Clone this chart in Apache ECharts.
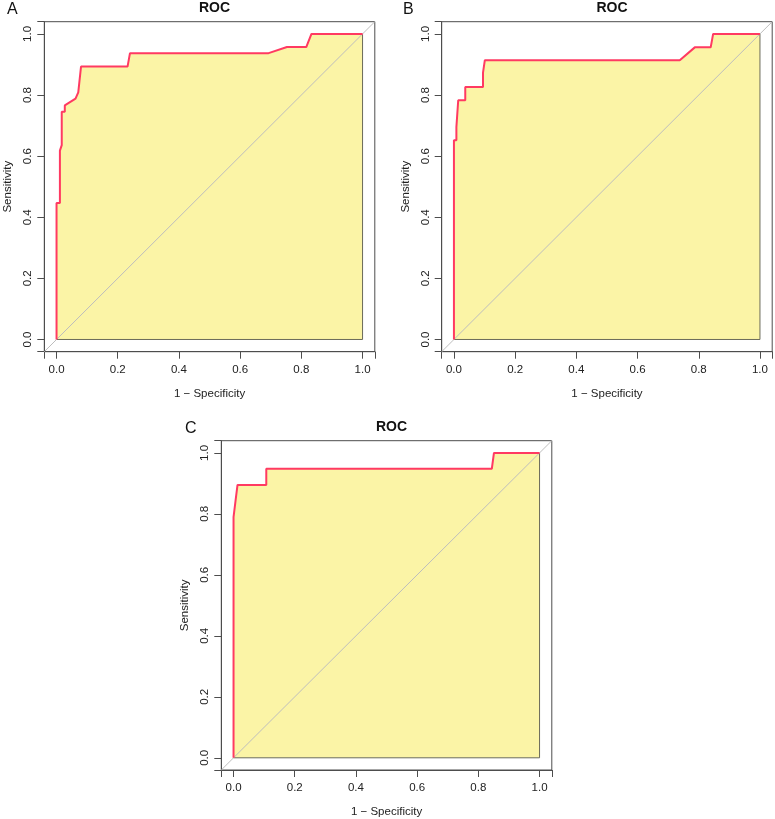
<!DOCTYPE html>
<html>
<head>
<meta charset="utf-8">
<script src="https://cdn.jsdelivr.net/npm/echarts@6/dist/echarts.min.js"></script>
<style>
html,body{margin:0;padding:0;background:#fff;}
#chart{width:775px;height:819px;}
</style>
</head>
<body>
<div id="chart"></div>
<script>
// ---- data ----
const panelLetters = ['A', 'B', 'C'];
const panelTitle = 'ROC';
const xAxisName = '1 \u2212 Specificity';
const yAxisName = 'Sensitivity';
const tickValues = [0, 0.2, 0.4, 0.6, 0.8, 1.0];

const fprA = [0, 0, 0.011, 0.011, 0.017, 0.017, 0.027, 0.027, 0.062, 0.071, 0.080, 0.232, 0.240, 0.693, 0.753, 0.816, 0.833, 1.0];
const tprA = [0, 0.447, 0.447, 0.618, 0.636, 0.745, 0.745, 0.766, 0.788, 0.809, 0.893, 0.893, 0.937, 0.937, 0.957, 0.957, 1.0, 1.0];

const fprB = [0, 0, 0.008, 0.008, 0.014, 0.014, 0.037, 0.037, 0.095, 0.095, 0.101, 0.738, 0.787, 0.839, 0.847, 1.0];
const tprB = [0, 0.652, 0.652, 0.695, 0.695, 0.783, 0.783, 0.826, 0.826, 0.873, 0.914, 0.914, 0.956, 0.956, 1.0, 1.0];

const fprC = [0, 0, 0.0065, 0.0065, 0.013, 0.013, 0.107, 0.107, 0.844, 0.851, 1.0];
const tprC = [0, 0.789, 0.789, 0.843, 0.843, 0.895, 0.895, 0.948, 0.948, 1.0, 1.0];

const axisPad = 0.04; // R's default 4% range extension

// ---- build ----
const curves = [[fprA, tprA], [fprB, tprB], [fprC, tprC]];
const grids = [
  {left: 44.3, top: 21.7, width: 330.5, height: 330},
  {left: 441.7, top: 21.7, width: 330.5, height: 330},
  {left: 221.3, top: 440.7, width: 330.5, height: 329.6}
];
const FONT = '"Liberation Sans", Arial, Helvetica, sans-serif';
const RED = '#FF3A62';
const FILL = '#FBF4A6';
const BOX = '#4d4d4d';

const option = {
  animation: false,
  title: [],
  grid: [],
  xAxis: [],
  yAxis: [],
  series: []
};

grids.forEach((g, i) => {
  option.grid.push(Object.assign({show: true, borderColor: BOX}, g));
  option.title.push({
    text: panelTitle, left: g.left + g.width / 2, top: g.top - 26, textAlign: 'center',
    textStyle: {fontFamily: FONT, fontWeight: 'bold', fontSize: 14, color: '#111'}
  });
  const lx = i === 0 ? 2 : (i === 1 ? 398 : 180);
  option.title.push({
    text: panelLetters[i], left: lx, top: g.top - 25,
    textStyle: {fontFamily: FONT, fontWeight: 'normal', fontSize: 16, color: '#111'}
  });
  const common = {
    gridIndex: i, type: 'value', min: -axisPad, max: 1 + axisPad,
    axisLine: {show: true, onZero: false, lineStyle: {color: BOX}},
    splitLine: {show: false},
    axisTick: {show: true, length: 7, lineStyle: {color: BOX}},
    nameLocation: 'middle',
    nameTextStyle: {fontFamily: FONT, fontSize: 11.5, color: '#222'}
  };
  option.xAxis.push(Object.assign({}, common, {
    name: xAxisName, nameGap: 36,
    axisLabel: {customValues: tickValues, formatter: v => v.toFixed(1), margin: 12,
      fontFamily: FONT, fontSize: 11.5, color: '#222'}
  }));
  option.yAxis.push(Object.assign({}, common, {
    name: yAxisName, nameGap: 30,
    axisLabel: {customValues: tickValues, formatter: v => v.toFixed(1), margin: 10, rotate: 90,
      fontFamily: FONT, fontSize: 11.5, color: '#222'}
  }));
  const pts = curves[i][0].map((x, k) => [x, curves[i][1][k]]);
  option.series.push({
    type: 'line', xAxisIndex: i, yAxisIndex: i, data: pts, showSymbol: false,
    lineStyle: {width: 0, opacity: 0}, areaStyle: {color: FILL, opacity: 1}, silent: true
  });
  option.series.push({
    type: 'line', xAxisIndex: i, yAxisIndex: i, showSymbol: false, silent: true,
    data: [[1, 1], [1, 0], [0, 0]], lineStyle: {color: '#6b6b5a', width: 1}
  });
  option.series.push({
    type: 'line', xAxisIndex: i, yAxisIndex: i, showSymbol: false, silent: true,
    data: [[-axisPad, -axisPad], [1 + axisPad, 1 + axisPad]], lineStyle: {color: '#bdbdbd', width: 1}
  });
  option.series.push({
    type: 'line', xAxisIndex: i, yAxisIndex: i, showSymbol: false, silent: true,
    data: pts, lineStyle: {color: RED, width: 2}
  });
});

const chart = echarts.init(document.getElementById('chart'));
chart.setOption(option);
</script>
</body>
</html>
